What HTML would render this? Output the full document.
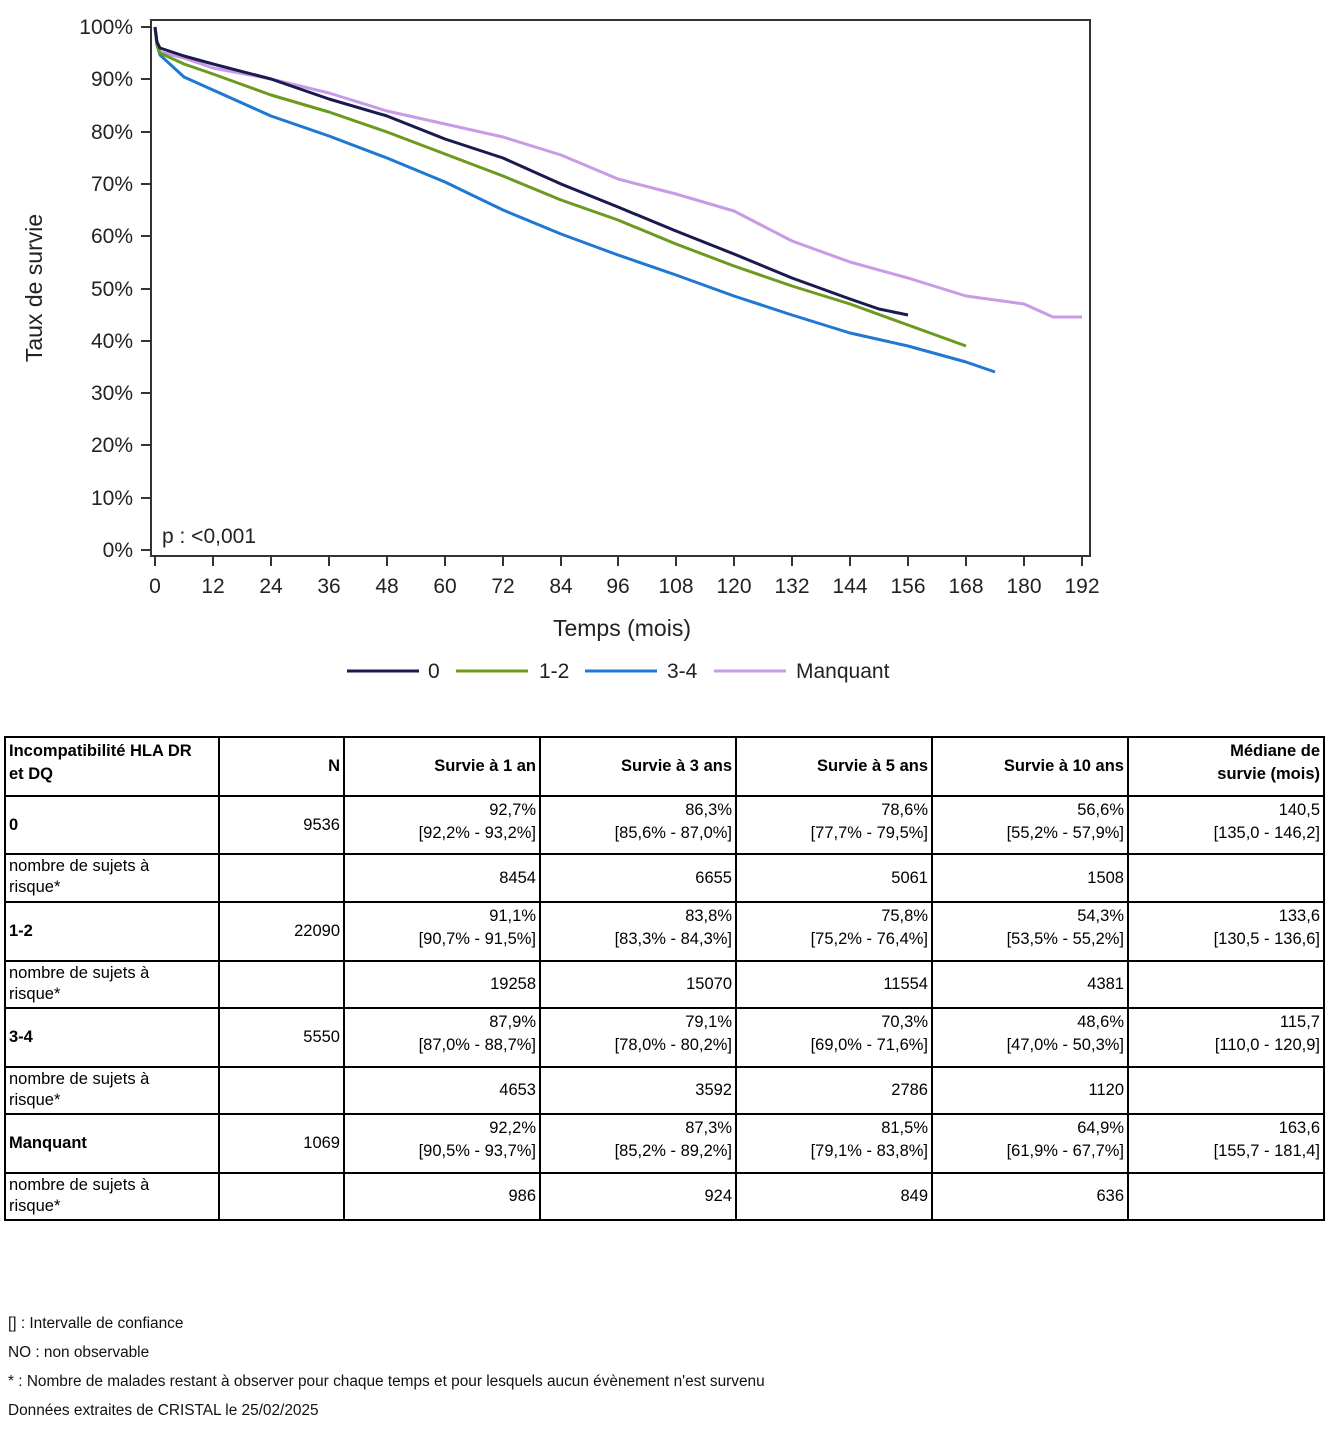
<!DOCTYPE html>
<html><head><meta charset="utf-8"><style>
body{margin:0;background:#fff;width:1340px;height:1430px;position:relative;font-family:"Liberation Sans",Arial,sans-serif;}
table{position:absolute;left:4px;top:736px;border-collapse:collapse;font-size:16.5px;}
td{border:2px solid #000;text-align:right;vertical-align:top;padding:2px 3px;line-height:23px;box-sizing:border-box;}
td.l{text-align:left;}
td.r{line-height:21px;padding:1px 3px;}
.b{font-weight:bold;}
.foot{position:absolute;left:8px;font-size:15.4px;color:#111;}
</style></head><body>
<svg width="1340" height="720" style="position:absolute;left:0;top:0" font-family="Liberation Sans, Arial, sans-serif">
<rect x="151" y="20" width="939" height="536" fill="none" stroke="#333" stroke-width="2"/>
<g stroke="#333" stroke-width="2">
<line x1="141" y1="27" x2="151" y2="27"/><line x1="141" y1="79" x2="151" y2="79"/><line x1="141" y1="132" x2="151" y2="132"/><line x1="141" y1="184" x2="151" y2="184"/><line x1="141" y1="236" x2="151" y2="236"/><line x1="141" y1="289" x2="151" y2="289"/><line x1="141" y1="341" x2="151" y2="341"/><line x1="141" y1="393" x2="151" y2="393"/><line x1="141" y1="445" x2="151" y2="445"/><line x1="141" y1="498" x2="151" y2="498"/><line x1="141" y1="550" x2="151" y2="550"/>
<line x1="155" y1="556" x2="155" y2="566"/><line x1="213" y1="556" x2="213" y2="566"/><line x1="271" y1="556" x2="271" y2="566"/><line x1="329" y1="556" x2="329" y2="566"/><line x1="387" y1="556" x2="387" y2="566"/><line x1="445" y1="556" x2="445" y2="566"/><line x1="503" y1="556" x2="503" y2="566"/><line x1="561" y1="556" x2="561" y2="566"/><line x1="618" y1="556" x2="618" y2="566"/><line x1="676" y1="556" x2="676" y2="566"/><line x1="734" y1="556" x2="734" y2="566"/><line x1="792" y1="556" x2="792" y2="566"/><line x1="850" y1="556" x2="850" y2="566"/><line x1="908" y1="556" x2="908" y2="566"/><line x1="966" y1="556" x2="966" y2="566"/><line x1="1024" y1="556" x2="1024" y2="566"/><line x1="1082" y1="556" x2="1082" y2="566"/>
</g>
<g font-size="21" fill="#222" text-anchor="end">
<text x="133" y="34">100%</text><text x="133" y="86">90%</text><text x="133" y="139">80%</text><text x="133" y="191">70%</text><text x="133" y="243">60%</text><text x="133" y="296">50%</text><text x="133" y="348">40%</text><text x="133" y="400">30%</text><text x="133" y="452">20%</text><text x="133" y="505">10%</text><text x="133" y="557">0%</text>
</g>
<g font-size="21" fill="#222" text-anchor="middle">
<text x="155" y="593">0</text><text x="213" y="593">12</text><text x="271" y="593">24</text><text x="329" y="593">36</text><text x="387" y="593">48</text><text x="445" y="593">60</text><text x="503" y="593">72</text><text x="561" y="593">84</text><text x="618" y="593">96</text><text x="676" y="593">108</text><text x="734" y="593">120</text><text x="792" y="593">132</text><text x="850" y="593">144</text><text x="908" y="593">156</text><text x="966" y="593">168</text><text x="1024" y="593">180</text><text x="1082" y="593">192</text>
<text x="622" y="636" font-size="23">Temps (mois)</text>
</g>
<text transform="translate(42,288) rotate(-90)" font-size="23" fill="#222" text-anchor="middle">Taux de survie</text>
<text x="162" y="543" font-size="21" fill="#222">p : &lt;0,001</text>
<g fill="none" stroke-width="3" stroke-linejoin="round">
<polyline stroke="#c79be6" points="155,27 157,45 160,52 184,58 213,68 271,79 329,93 387,111 445,124 503,137 561,155 618,179 676,194 734,211 792,241 850,262 908,278 966,296 1024,304 1053,317 1082,317"/>
<polyline stroke="#1f78d1" points="155,27 157,45 160,55 184,77 213,90 271,116 329,136 387,158 445,182 503,210 561,234 618,255 676,275 734,296 792,315 850,333 908,346 966,362 995,372"/>
<polyline stroke="#6b9a1f" points="155,27 157,45 160,53 184,64 213,74 271,95 329,112 387,132 445,154 503,176 561,200 618,220 676,244 734,266 792,286 850,304 908,325 966,346"/>
<polyline stroke="#1a1a4e" points="155,27 157,42 160,48 184,56 213,64 271,79 329,99 387,116 445,139 503,158 561,184 618,207 676,231 734,254 792,278 850,299 879,309 908,315"/>
</g>
<g stroke-width="3">
<line x1="347" y1="671" x2="419" y2="671" stroke="#1a1a4e"/>
<line x1="456" y1="671" x2="528" y2="671" stroke="#6b9a1f"/>
<line x1="585" y1="671" x2="657" y2="671" stroke="#1f78d1"/>
<line x1="714" y1="671" x2="786" y2="671" stroke="#c79be6"/>
</g>
<g font-size="21" fill="#222">
<text x="428" y="678">0</text><text x="539" y="678">1-2</text><text x="667" y="678">3-4</text><text x="796" y="678">Manquant</text>
</g>
</svg>
<table>
<tr style="height:59px"><td class="l b" style="width:214px">Incompatibilité HLA DR<br>et DQ</td><td class="b" style="width:125px;vertical-align:middle">N</td><td class="b" style="width:196px;vertical-align:middle">Survie à 1 an</td><td class="b" style="width:196px;vertical-align:middle">Survie à 3 ans</td><td class="b" style="width:196px;vertical-align:middle">Survie à 5 ans</td><td class="b" style="width:196px;vertical-align:middle">Survie à 10 ans</td><td class="b" style="width:196px">Médiane de<br>survie (mois)</td></tr>
<tr style="height:58px"><td class="l b" style="vertical-align:middle">0</td><td style="vertical-align:middle">9536</td><td>92,7%<br>[92,2% - 93,2%]</td><td>86,3%<br>[85,6% - 87,0%]</td><td>78,6%<br>[77,7% - 79,5%]</td><td>56,6%<br>[55,2% - 57,9%]</td><td>140,5<br>[135,0 - 146,2]</td></tr>
<tr style="height:48px"><td class="l r">nombre de sujets à<br>risque*</td><td></td><td style="vertical-align:middle">8454</td><td style="vertical-align:middle">6655</td><td style="vertical-align:middle">5061</td><td style="vertical-align:middle">1508</td><td></td></tr>
<tr style="height:59px"><td class="l b" style="vertical-align:middle">1-2</td><td style="vertical-align:middle">22090</td><td>91,1%<br>[90,7% - 91,5%]</td><td>83,8%<br>[83,3% - 84,3%]</td><td>75,8%<br>[75,2% - 76,4%]</td><td>54,3%<br>[53,5% - 55,2%]</td><td>133,6<br>[130,5 - 136,6]</td></tr>
<tr style="height:47px"><td class="l r">nombre de sujets à<br>risque*</td><td></td><td style="vertical-align:middle">19258</td><td style="vertical-align:middle">15070</td><td style="vertical-align:middle">11554</td><td style="vertical-align:middle">4381</td><td></td></tr>
<tr style="height:59px"><td class="l b" style="vertical-align:middle">3-4</td><td style="vertical-align:middle">5550</td><td>87,9%<br>[87,0% - 88,7%]</td><td>79,1%<br>[78,0% - 80,2%]</td><td>70,3%<br>[69,0% - 71,6%]</td><td>48,6%<br>[47,0% - 50,3%]</td><td>115,7<br>[110,0 - 120,9]</td></tr>
<tr style="height:47px"><td class="l r">nombre de sujets à<br>risque*</td><td></td><td style="vertical-align:middle">4653</td><td style="vertical-align:middle">3592</td><td style="vertical-align:middle">2786</td><td style="vertical-align:middle">1120</td><td></td></tr>
<tr style="height:59px"><td class="l b" style="vertical-align:middle">Manquant</td><td style="vertical-align:middle">1069</td><td>92,2%<br>[90,5% - 93,7%]</td><td>87,3%<br>[85,2% - 89,2%]</td><td>81,5%<br>[79,1% - 83,8%]</td><td>64,9%<br>[61,9% - 67,7%]</td><td>163,6<br>[155,7 - 181,4]</td></tr>
<tr style="height:47px"><td class="l r">nombre de sujets à<br>risque*</td><td></td><td style="vertical-align:middle">986</td><td style="vertical-align:middle">924</td><td style="vertical-align:middle">849</td><td style="vertical-align:middle">636</td><td></td></tr>
</table>
<div class="foot" style="top:1315px">[] : Intervalle de confiance</div>
<div class="foot" style="top:1344px">NO : non observable</div>
<div class="foot" style="top:1373px">* : Nombre de malades restant à observer pour chaque temps et pour lesquels aucun évènement n'est survenu</div>
<div class="foot" style="top:1402px">Données extraites de CRISTAL le 25/02/2025</div>
</body></html>
